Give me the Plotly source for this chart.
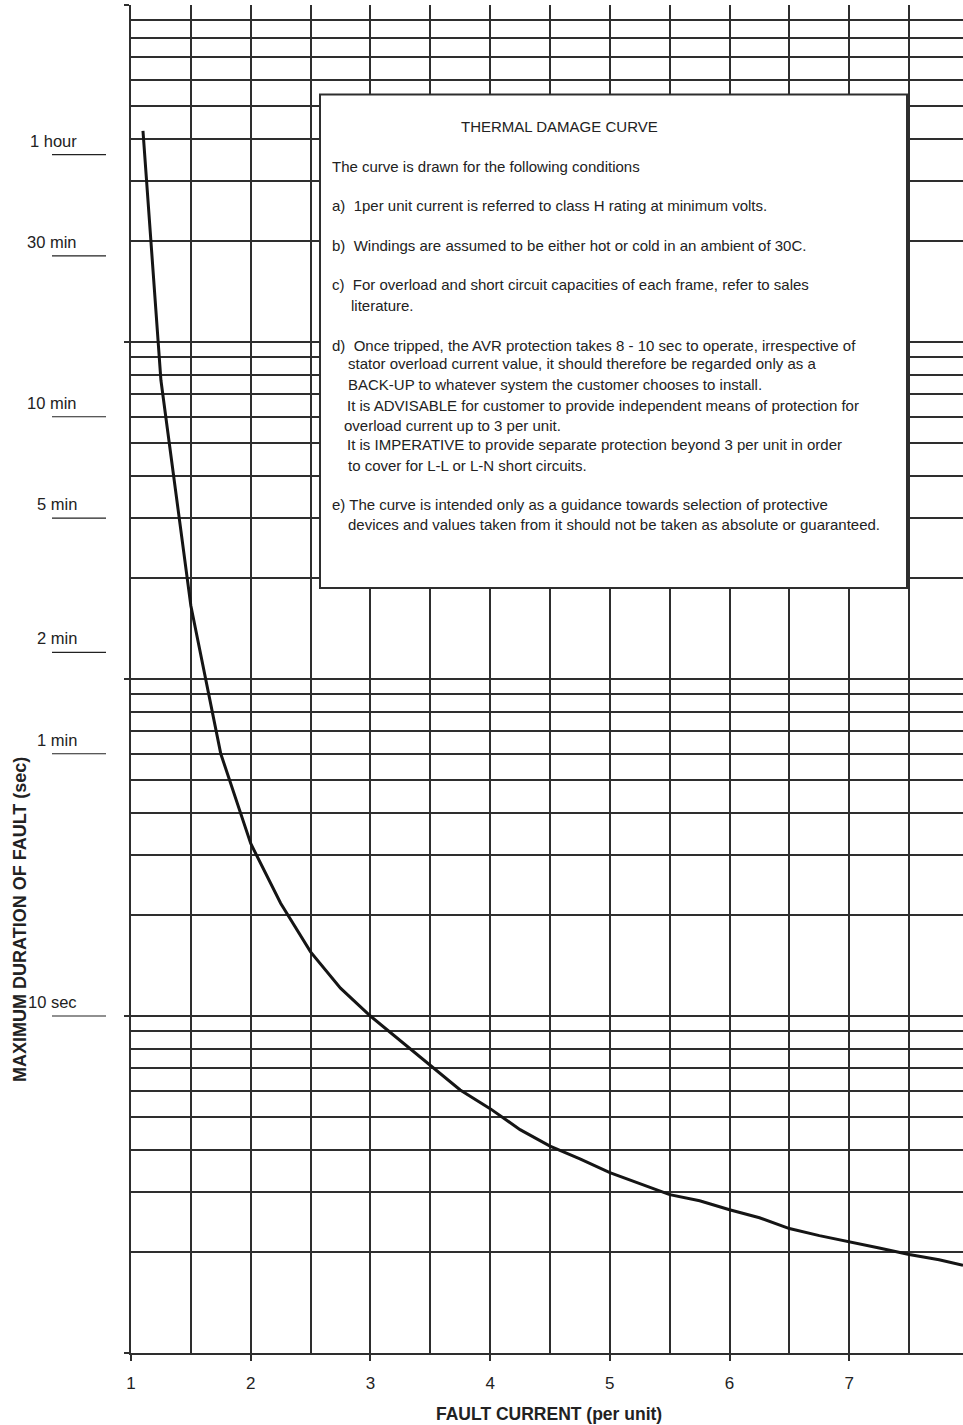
import math
import plotly.graph_objects as go

# ---- data ----
fault_current = [1.1, 1.25, 1.5, 1.75, 2.0, 2.25, 2.5, 2.75, 3.0, 3.25, 3.5, 3.75,
                 4.0, 4.25, 4.5, 4.75, 5.0, 5.25, 5.5, 5.75, 6.0, 6.25, 6.5, 6.75,
                 7.0, 7.25, 7.5, 7.75, 7.95]
max_duration_sec = [4230, 770, 165, 60, 32.5, 21.6, 15.5, 12.1, 10.0, 8.45, 7.16, 6.03,
                    5.31, 4.60, 4.11, 3.77, 3.43, 3.18, 2.95, 2.83, 2.66, 2.52, 2.34, 2.23,
                    2.14, 2.05, 1.96, 1.89, 1.82]

x_ticks = [1, 2, 3, 4, 5, 6, 7]
x_minor = [1.5, 2.5, 3.5, 4.5, 5.5, 6.5, 7.5]
y_decades = [1, 10, 100, 1000, 10000]
y_minor = [m * d for d in [1, 10, 100, 1000] for m in range(2, 10)]

time_labels = ["1 hour", "30 min", "10 min", "5 min", "2 min", "1 min", "10 sec"]
time_values = [3600, 1800, 600, 300, 120, 60, 10]

box_title = "THERMAL DAMAGE CURVE"
box_lines = [
    "The curve is drawn for the following conditions",
    "a)  1per unit current is referred to class H rating at minimum volts.",
    "b)  Windings are assumed to be either hot or cold in an ambient of 30C.",
    "c)  For overload and short circuit capacities of each frame, refer to sales",
    "literature.",
    "d)  Once tripped, the AVR protection takes 8 - 10 sec to operate, irrespective of",
    "stator overload current value, it should therefore be regarded only as a",
    "BACK-UP to whatever system the customer chooses to install.",
    "It is ADVISABLE for customer to provide independent means of protection for",
    "overload current up to 3 per unit.",
    "It is IMPERATIVE to provide separate protection beyond 3 per unit in order",
    "to cover for L-L or L-N short circuits.",
    "e) The curve is intended only as a guidance towards selection of protective",
    "devices and values taken from it should not be taken as absolute or guaranteed.",
]
# layout positions (pixels) of each text line: (left x, center y)
box_line_pos = [(330, 167), (330, 205), (330, 245), (330, 285), (349, 305),
                (330, 345), (346, 364), (346, 384), (345, 405), (342, 425),
                (345, 445), (346, 465), (330, 504), (346, 524)]

W, H = 963, 1425
L, R, T, B = 131, 963, 5, 1353
def px_x(p):
    return (p - L) / (R - L)
def px_y(p):
    return (B - p) / (B - T)

FONT = "Arial, 'Liberation Sans', sans-serif"
GRID = "#2e2e2e"
TXT = "#222222"

fig = go.Figure()
fig.add_trace(go.Scatter(x=fault_current, y=max_duration_sec, mode="lines",
                         line=dict(color="#151515", width=3), showlegend=False,
                         hoverinfo="x+y"))

shapes = []
annotations = []

# left time labels with underline
for lab, val in zip(time_labels, time_values):
    shapes.append(dict(type="line", xref="paper", yref="y",
                       x0=px_x(52), x1=px_x(106), y0=val, y1=val,
                       line=dict(color=TXT, width=1.2)))
    annotations.append(dict(text=lab, xref="paper", yref="y", x=px_x(79), y=math.log10(val),
                            xanchor="right", yanchor="bottom", yshift=3, showarrow=False,
                            font=dict(family=FONT, size=16.5, color=TXT)))

# text box
shapes.append(dict(type="rect", xref="paper", yref="paper",
                   x0=px_x(320), x1=px_x(907), y0=px_y(588), y1=px_y(94.5),
                   line=dict(color=GRID, width=2), fillcolor="white", layer="above"))
annotations.append(dict(text=box_title, xref="paper", yref="paper", x=px_x(559), y=px_y(126),
                        xanchor="center", yanchor="middle", showarrow=False,
                        font=dict(family=FONT, size=15, color=TXT)))
for txt, (lx, ly) in zip(box_lines, box_line_pos):
    annotations.append(dict(text=txt, xref="paper", yref="paper", x=px_x(lx), y=px_y(ly),
                            xanchor="left", yanchor="middle", showarrow=False,
                            font=dict(family=FONT, size=15, color=TXT)))

# axis titles
annotations.append(dict(text="<b>FAULT CURRENT (per unit)</b>", xref="paper", yref="paper",
                        x=px_x(549), y=px_y(1414), xanchor="center", yanchor="middle",
                        showarrow=False, font=dict(family=FONT, size=17.5, color=TXT)))
annotations.append(dict(text="<b>MAXIMUM DURATION OF FAULT (sec)</b>", xref="paper", yref="paper",
                        x=px_x(20), y=px_y(920), xanchor="center", yanchor="middle",
                        textangle=-90, showarrow=False,
                        font=dict(family=FONT, size=18, color=TXT)))

fig.update_layout(
    width=W, height=H,
    margin=dict(l=L, r=W - R, t=T, b=H - B, pad=0),
    paper_bgcolor="white", plot_bgcolor="white",
    shapes=shapes, annotations=annotations,
    xaxis=dict(range=[1, 7.95], tickmode="array", tickvals=x_ticks,
               ticktext=[str(v) for v in x_ticks],
               ticks="outside", ticklen=6, tickwidth=1.5, tickcolor=GRID,
               ticklabelstandoff=8,
               showgrid=True, gridcolor=GRID, gridwidth=1.5,
               minor=dict(tickvals=x_minor, showgrid=True, gridcolor=GRID, gridwidth=1.5, ticks=""),
               showline=True, linecolor=GRID, linewidth=1.5,
               zeroline=False, tickfont=dict(family=FONT, size=17, color=TXT)),
    yaxis=dict(type="log", range=[0, 4], tickmode="array", tickvals=y_decades,
               showticklabels=False,
               ticks="outside", ticklen=5, tickwidth=1.5, tickcolor=GRID,
               showgrid=True, gridcolor=GRID, gridwidth=1.5,
               minor=dict(tickvals=y_minor, showgrid=True, gridcolor=GRID, gridwidth=1.5, ticks=""),
               showline=True, linecolor=GRID, linewidth=1.5, zeroline=False),
)

fig.write_html("out.html", config={"displayModeBar": False},
               post_script="document.body.style.margin='0';document.body.style.overflow='hidden';")
